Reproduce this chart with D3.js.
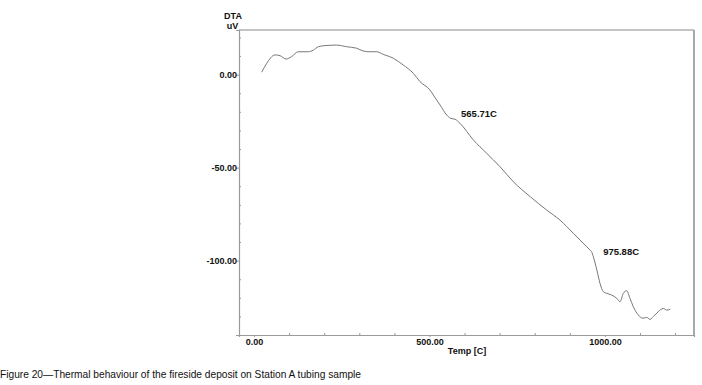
<!DOCTYPE html>
<html><head><meta charset="utf-8">
<script src="https://cdn.jsdelivr.net/npm/d3@7"></script>
<style>
html,body{margin:0;padding:0;background:#fff;}
svg{display:block;font-family:"Liberation Sans",Arial,Helvetica,sans-serif;}
</style></head>
<body>
<svg id="c" width="702" height="385"></svg>
<script>
const temps = [21.7, 36, 47, 59.6, 73.9, 91, 107, 126, 154.6, 169, 183, 202, 235.5, 264, 292.5, 311, 330, 349.5, 368, 397, 425, 454, 473, 501.5, 511, 530, 549, 560.5, 573, 587, 625, 663, 701, 739, 787, 834, 872, 910, 948, 957.5, 962, 967, 977, 986, 995.5, 1005, 1019, 1034, 1043, 1052.5, 1062, 1071.5, 1081, 1095, 1109, 1119, 1128.6, 1138, 1152, 1166.5, 1176, 1186];
const dta = [1.3, 6.1, 9, 10.6, 10.2, 8.4, 9.7, 12.3, 12.3, 13.2, 15, 15.6, 15.9, 15, 14.2, 12.7, 12.3, 12.3, 10.9, 8.8, 5.2, 0.7, -3.8, -8.3, -11, -16.3, -21.7, -23.5, -24, -26.2, -35.1, -42.3, -49.5, -57.6, -65.6, -72.8, -78.2, -85.3, -92.5, -94.3, -95.2, -97.9, -105, -112.2, -116.7, -117.6, -118.5, -120.3, -122.1, -117.6, -116.2, -120.3, -124.8, -129.2, -131, -130.5, -131.6, -130.1, -127.5, -125.7, -126.6, -126.2];
const xTicks = [0, 500, 1000];
const yTicks = [0, -50, -100];
const annTemps = [565.71, 975.88];
const annLabelTemps = [590, 995];
const annLabelVals = [-21.2, -95.3];
const caption = "Figure 20\u2014Thermal behaviour of the fireside deposit on Station A tubing sample";

const svg = d3.select("#c");
const L = 239, R = 694, T = 30, B = 335;
const x = d3.scaleLinear().domain([-43, 1254]).range([L, R]);
const y = d3.scaleLinear().domain([24, -140]).range([T, B]);
const fmt = v => v.toFixed(2);

const axisCol = "#9a9a9a";
// frame
svg.append("line").attr("x1", L).attr("x2", R).attr("y1", T).attr("y2", T).attr("stroke", "#b0b0b0").attr("stroke-width", 1.5);
svg.append("line").attr("x1", R).attr("x2", R).attr("y1", T).attr("y2", B).attr("stroke", "#a8a8a8").attr("stroke-width", 2);

// axes
const yAxis = d3.axisLeft(y).tickValues(yTicks).tickSize(3).tickFormat(fmt);
const gy = svg.append("g").attr("transform", `translate(${L},0)`).call(yAxis);
const xAxis = d3.axisBottom(x).tickValues(xTicks).tickSize(2).tickFormat(fmt);
const gx = svg.append("g").attr("transform", `translate(0,${B})`).call(xAxis);
[gx, gy].forEach(g => {
  g.select(".domain").attr("stroke", axisCol).attr("stroke-width", 1.2);
  g.selectAll(".tick line").attr("stroke", axisCol);
  g.selectAll(".tick text").attr("fill", "#111").attr("font-size", 9).attr("font-weight", "bold")
    .attr("font-family", "Liberation Sans, Arial, sans-serif");
});
gy.selectAll(".tick text").attr("x", -2).attr("dy", "0.35em");
gx.selectAll(".tick text").attr("y", 4).attr("dy", "0.71em");

// minor ticks
const gyMinor = svg.append("g").attr("transform", `translate(${L},0)`)
  .call(d3.axisRight(y).tickValues(d3.range(-140, 21, 10).filter(v => !yTicks.includes(v))).tickSize(2).tickFormat(""));
gyMinor.select(".domain").remove();
gyMinor.selectAll(".tick line").attr("stroke", axisCol);
const gxMinor = svg.append("g").attr("transform", `translate(0,${B})`)
  .call(d3.axisTop(x).tickValues(d3.range(0, 1201, 100).filter(v => !xTicks.includes(v))).tickSize(2).tickFormat(""));
gxMinor.select(".domain").remove();
gxMinor.selectAll(".tick line").attr("stroke", axisCol);

// axis titles
svg.append("text").attr("x", 233).attr("y", 19).attr("text-anchor", "middle").attr("font-size", 9).attr("font-weight", "bold").attr("fill", "#111").text("DTA");
svg.append("text").attr("x", 232.5).attr("y", 28.5).attr("text-anchor", "middle").attr("font-size", 9).attr("font-weight", "bold").attr("fill", "#111").text("uV");
svg.append("text").attr("x", 467).attr("y", 354).attr("text-anchor", "middle").attr("font-size", 9).attr("font-weight", "bold").attr("fill", "#111").text("Temp  [C]");

// curve
const pts = temps.map((t, i) => [t, dta[i]]);
svg.append("path").datum(pts)
  .attr("fill", "none").attr("stroke", "#777").attr("stroke-width", 1)
  .attr("d", d3.line().curve(d3.curveMonotoneX).x(d => x(d[0])).y(d => y(d[1])));

// annotations
annTemps.forEach((t, i) => {
  svg.append("text").attr("x", x(annLabelTemps[i])).attr("y", y(annLabelVals[i])).attr("dy", "0.35em")
    .attr("font-size", 9.5).attr("font-weight", "bold").attr("fill", "#111").text(t.toFixed(2) + "C");
});

// caption
svg.append("text").attr("x", 0).attr("y", 377.5).attr("font-size", 11).attr("fill", "#111")
  .attr("textLength", 361).attr("lengthAdjust", "spacingAndGlyphs").text(caption);
</script>
</body></html>
